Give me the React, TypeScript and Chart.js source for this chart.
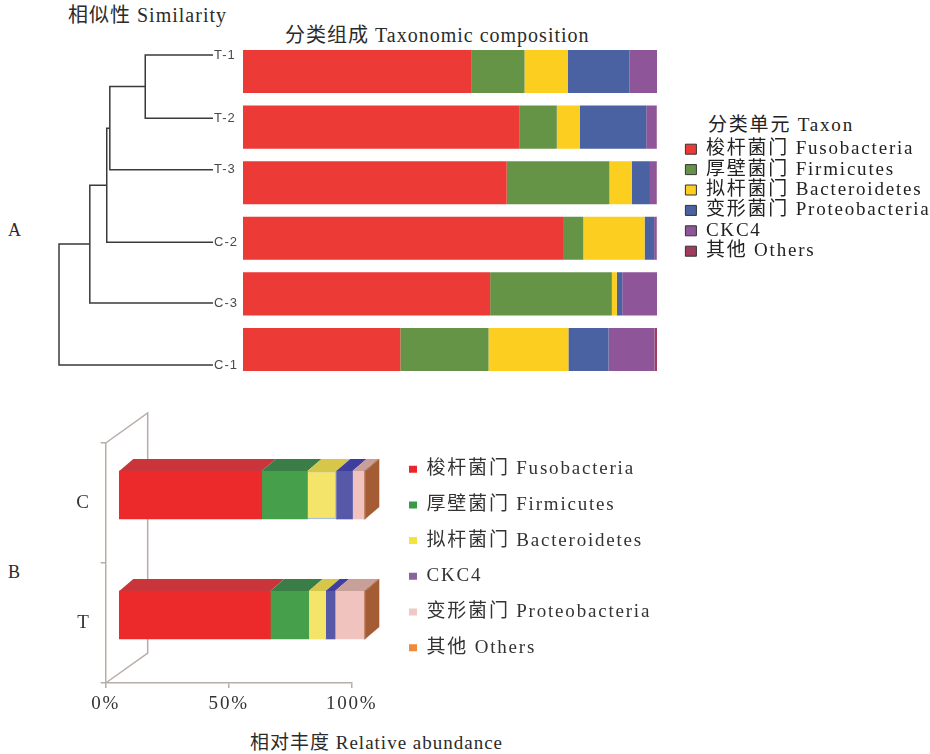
import React, { useEffect, useRef } from 'react';
import { Chart, registerables } from 'chart.js';
Chart.register(...registerables);

const SERIF = "'Liberation Serif', 'Noto Sans CJK SC', serif";
const SANS = "'Liberation Sans', Arial, sans-serif";

// ---------- Panel A data ----------
const samplesA = ['T-1', 'T-2', 'T-3', 'C-2', 'C-3', 'C-1'];
const taxaA = ['梭杆菌门 Fusobacteria', '厚壁菌门 Firmicutes', '拟杆菌门 Bacteroidetes', '变形菌门 Proteobacteria', 'CKC4', '其他 Others'];
const fusoA = [55.1, 66.7, 63.7, 77.3, 59.7, 38.0];
const firmA = [12.9, 9.1, 24.8, 4.9, 29.4, 21.3];
const bactA = [10.5, 5.6, 5.4, 14.8, 1.2, 19.3];
const proteoA = [14.8, 16.0, 4.4, 2.3, 1.3, 9.7];
const ckc4A = [6.7, 2.5, 1.6, 0.6, 8.4, 11.1];
const othersA = [0.0, 0.1, 0.1, 0.1, 0.0, 0.6];
const colorsA = ['#EC3A37', '#659447', '#FBCE20', '#4A61A2', '#8E5699', '#9E3D5D'];

// dendrogram (similarity)
const leafPos = [0, 1.02, 1.85, 3.02, 4.0, 5.0];
const mergeA = [0, 6, 7, 8, 9];
const mergeB = [1, 2, 3, 4, 5];
const mergeSim = [0.78, 0.665, 0.655, 0.6, 0.5];

// ---------- Panel B data ----------
const groupsB = ['C', 'T'];
const taxaB = ['梭杆菌门 Fusobacteria', '厚壁菌门 Firmicutes', '拟杆菌门 Bacteroidetes', 'CKC4', '变形菌门 Proteobacteria', '其他 Others'];
const fusoB = [57.9, 61.4];
const firmB = [18.6, 15.6];
const bactB = [11.7, 6.9];
const ckc4B = [6.6, 3.8];
const proteoB = [4.7, 11.8];
const othersB = [0.5, 0.5];
const tickValsB = [0, 50, 100];
const frontColorsB = ['#EC2A2C', '#46A04B', '#F5E46A', '#5858A8', '#F0C3BE', '#A45C35'];
const topColorsB = ['#C9353A', '#3A7D47', '#D6C64A', '#3D3E9D', '#C9A099', '#A45C35'];
const legendColorsB = ['#E8262B', '#3A9A48', '#F3E33A', '#8A62A0', '#F0C8C4', '#EE8B3C'];
const capColorB = '#A45C35';
const frameColor = '#B8ADA6';

const spacing = (px: string) => ({
  id: 'spacing',
  beforeUpdate(chart: any) { chart.ctx.letterSpacing = px; },
  beforeLayout(chart: any) { chart.ctx.letterSpacing = px; },
  beforeDraw(chart: any) { chart.ctx.letterSpacing = px; },
});

// keeps the legend box at a fixed width so the plot area keeps its place
const fixLegendWidth = (w: number) => ({
  id: 'fixLegendWidth',
  beforeLayout(chart: any) {
    const lg = chart.legend;
    if (lg && !lg.__fixed) {
      const orig = lg.fit.bind(lg);
      lg.fit = function () {
        orig();
        this.width = w;
      };
      lg.__fixed = true;
    }
  },
});

const DEPTH_DX = 14;
const DEPTH_DY = 12;
const WALL_DX = 42;
const WALL_DY = 30;

const depthPlugin = {
  id: 'depth3d',
  beforeDatasetsDraw(chart: any) {
    const { ctx } = chart;
    const x2 = chart.scales.x2;
    const y2 = chart.scales.y2;
    const x0 = x2.getPixelForValue(0);
    const top = y2.top;
    const bottom = y2.bottom;
    ctx.save();
    ctx.strokeStyle = frameColor;
    ctx.lineWidth = 1.5;
    ctx.beginPath();
    ctx.moveTo(x0, top);
    ctx.lineTo(x0 + WALL_DX, top - WALL_DY);
    ctx.lineTo(x0 + WALL_DX, bottom - WALL_DY);
    ctx.lineTo(x0, bottom);
    ctx.stroke();
    ctx.restore();
  },
  afterDatasetsDraw(chart: any) {
    const { ctx } = chart;
    const n = chart.data.datasets.length;
    ctx.save();
    for (let i = 0; i < n; i++) {
      const meta = chart.getDatasetMeta(i);
      meta.data.forEach((el: any) => {
        const { x, y, base, height } = el.getProps(['x', 'y', 'base', 'height'], true);
        const t = y - height / 2;
        const b = y + height / 2;
        ctx.fillStyle = topColorsB[i];
        ctx.beginPath();
        ctx.moveTo(base, t);
        ctx.lineTo(base + DEPTH_DX, t - DEPTH_DY);
        ctx.lineTo(x + DEPTH_DX, t - DEPTH_DY);
        ctx.lineTo(x, t);
        ctx.closePath();
        ctx.fill();
        if (i === n - 1) {
          ctx.fillStyle = capColorB;
          ctx.beginPath();
          ctx.moveTo(x, t);
          ctx.lineTo(x + DEPTH_DX, t - DEPTH_DY);
          ctx.lineTo(x + DEPTH_DX, b - DEPTH_DY);
          ctx.lineTo(x, b);
          ctx.closePath();
          ctx.fill();
        }
      });
    }
    ctx.restore();
  },
};

export default function App() {
  const dRef = useRef<HTMLCanvasElement>(null);
  const aRef = useRef<HTMLCanvasElement>(null);
  const bRef = useRef<HTMLCanvasElement>(null);

  useEffect(() => {
    // dendrogram
    const nodeX = leafPos.map(() => 1.0);
    const nodeY = [...leafPos];
    mergeSim.forEach((s, k) => {
      nodeX.push(s);
      nodeY.push((nodeY[mergeA[k]] + nodeY[mergeB[k]]) / 2);
    });
    const dendro = new Chart(dRef.current as HTMLCanvasElement, {
      type: 'scatter',
      data: {
        datasets: mergeSim.map((s, k) => {
          const a = mergeA[k];
          const b = mergeB[k];
          return {
            data: [
              { x: nodeX[a], y: nodeY[a] },
              { x: s, y: nodeY[a] },
              { x: s, y: nodeY[b] },
              { x: nodeX[b], y: nodeY[b] },
            ],
            showLine: true,
            borderColor: '#3a3a3a',
            borderWidth: 1.5,
            pointRadius: 0,
            tension: 0,
            clip: false,
          };
        }),
      },
      options: {
        animation: false,
        responsive: false,
        layout: { padding: { top: 10, bottom: 10, left: 0, right: 0 } },
        scales: {
          x: { type: 'linear', display: false, min: 0.3084, max: 1.0 },
          y: {
            type: 'linear',
            position: 'right',
            reverse: true,
            min: -0.0806,
            max: 5.0806,
            afterBuildTicks: (s: any) => { s.ticks = leafPos.map((v) => ({ value: v })); },
            ticks: {
              autoSkip: false,
              callback: (_v: any, i: number) => samplesA[i],
              font: { family: SANS, size: 13 },
              color: '#4a4a4a',
              padding: 1,
            },
            grid: { display: false, drawTicks: false },
            border: { display: false },
            afterFit: (s: any) => { s.width = 30; },
          },
        },
        plugins: { legend: { display: false }, tooltip: { enabled: false } },
      },
      plugins: [spacing('1px')],
    } as any);

    const seriesA = [fusoA, firmA, bactA, proteoA, ckc4A, othersA];
    const chartA = new Chart(aRef.current as HTMLCanvasElement, {
      type: 'bar',
      data: {
        labels: samplesA,
        datasets: seriesA.map((vals, i) => ({
          label: taxaA[i],
          data: vals,
          backgroundColor: colorsA[i],
          borderWidth: 0,
          barPercentage: 0.775,
          categoryPercentage: 1,
        })),
      },
      options: {
        indexAxis: 'y',
        animation: false,
        responsive: false,
        layout: { padding: { top: 13.7, bottom: 12.7, left: 0, right: 0 } },
        scales: {
          x: { stacked: true, min: 0, max: 100, display: false },
          y: {
            stacked: true,
            position: 'right',
            grid: { display: false, drawTicks: false },
            border: { display: false },
            ticks: { display: false },
            afterFit: (s: any) => { s.width = 27; },
          },
        },
        plugins: {
          tooltip: { enabled: false },
          legend: {
            position: 'right',
            align: 'start',
            title: {
              display: true,
              text: '',
              font: { family: SERIF, size: 19 },
              padding: { top: 71.8, bottom: 0 },
            },
            labels: {
              boxWidth: 11,
              boxHeight: 10,
              padding: 1.4,
              color: '#222',
              font: { family: SERIF, size: 19 },
              generateLabels: (chart: any) =>
                chart.data.datasets.map((ds: any, i: number) => ({
                  text: ds.label,
                  fillStyle: colorsA[i],
                  strokeStyle: '#333',
                  lineWidth: 1,
                  hidden: false,
                  datasetIndex: i,
                  fontColor: '#222',
                })),
            },
          },
        },
      },
      plugins: [fixLegendWidth(246), spacing('1.8px')],
    } as any);

    const seriesB = [fusoB, firmB, bactB, ckc4B, proteoB, othersB];
    const chartB = new Chart(bRef.current as HTMLCanvasElement, {
      type: 'bar',
      data: {
        labels: groupsB,
        datasets: seriesB.map((vals, i) => ({
          label: taxaB[i],
          data: vals.map((v, j) => ({ x: v, y: j })),
          backgroundColor: frontColorsB[i],
          borderColor: i === 2 ? ['#A9BFDC', 'rgba(0,0,0,0)'] : 'rgba(0,0,0,0)',
          borderWidth: i === 2 ? [1.5, 0] : 0,
          barThickness: 48,
          clip: false,
        })),
      },
      options: {
        indexAxis: 'y',
        animation: false,
        responsive: false,
        layout: { padding: { top: 43, left: 0, right: 0, bottom: 7 } },
        scales: {
          x: { type: 'linear', display: false, stacked: true, min: -5.53, max: 94.47 },
          y: {
            type: 'linear',
            position: 'right',
            stacked: true,
            reverse: true,
            offset: false,
            min: -0.4333,
            max: 1.5667,
            grid: { display: false, drawTicks: false, offset: false },
            border: { display: false },
            ticks: { display: false },
            afterFit: (s: any) => { s.width = 40.6; },
          },
          x2: {
            type: 'linear',
            axis: 'x',
            position: 'bottom',
            min: 0,
            max: 100,
            afterBuildTicks: (s: any) => { s.ticks = tickValsB.map((v) => ({ value: v })); },
            ticks: {
              callback: (v: any) => v + '%',
              font: { family: SERIF, size: 19 },
              color: '#333',
              padding: 5,
            },
            grid: { drawOnChartArea: false, tickLength: 5, color: frameColor, lineWidth: 1.5 },
            border: { color: frameColor, width: 1.5 },
            afterFit: (s: any) => { s.height = 40; },
          },
          y2: {
            type: 'category',
            axis: 'y',
            position: 'left',
            offset: true,
            ticks: { font: { family: SERIF, size: 19 }, color: '#333', padding: 10 },
            grid: { offset: true, drawOnChartArea: false, tickLength: 5, color: frameColor, lineWidth: 1.5 },
            border: { color: frameColor, width: 1.5 },
            afterFit: (s: any) => { s.width = 105.7; },
          },
        },
        plugins: {
          tooltip: { enabled: false },
          legend: {
            position: 'right',
            align: 'start',
            labels: {
              boxWidth: 8,
              boxHeight: 7,
              padding: 16.7,
              color: '#333',
              font: { family: SERIF, size: 19 },
              generateLabels: (chart: any) =>
                chart.data.datasets.map((ds: any, i: number) => ({
                  text: ds.label,
                  fillStyle: legendColorsB[i],
                  strokeStyle: legendColorsB[i],
                  lineWidth: 0,
                  hidden: false,
                  datasetIndex: i,
                  fontColor: '#333',
                })),
            },
          },
        },
      },
      plugins: [depthPlugin, fixLegendWidth(537.7), spacing('1.8px')],
    } as any);

    return () => {
      dendro.destroy();
      chartA.destroy();
      chartB.destroy();
    };
  }, []);

  const text = (extra: any) => ({
    position: 'absolute' as const,
    whiteSpace: 'nowrap' as const,
    fontFamily: SERIF,
    color: '#2b2b2b',
    ...extra,
  });

  return (
    <div style={{ position: 'absolute', left: 0, top: 0, width: 930, height: 754, background: '#fff', overflow: 'hidden' }}>
      <div style={text({ left: 68, top: 3, fontSize: 20, lineHeight: '24px', letterSpacing: '1px' })}>相似性 Similarity</div>
      <div style={text({ left: 285, top: 23, fontSize: 20, lineHeight: '24px', letterSpacing: '1px' })}>分类组成 Taxonomic composition</div>
      <div style={text({ left: 708, top: 113, fontSize: 19, lineHeight: '24px', letterSpacing: '1.8px', color: '#222' })}>分类单元 Taxon</div>
      <div style={text({ left: 8, top: 219, fontSize: 18, lineHeight: '22px' })}>A</div>
      <div style={text({ left: 8, top: 561, fontSize: 18, lineHeight: '22px' })}>B</div>
      <canvas ref={dRef} width={243} height={340} style={{ position: 'absolute', left: 0, top: 40, width: 243, height: 340 }} />
      <canvas ref={aRef} width={687} height={360} style={{ position: 'absolute', left: 243, top: 30, width: 687, height: 360 }} />
      <canvas ref={bRef} width={930} height={330} style={{ position: 'absolute', left: 0, top: 400, width: 930, height: 330 }} />
      <div style={text({ left: 250, top: 731, fontSize: 19, lineHeight: '24px', letterSpacing: '1px' })}>相对丰度 Relative abundance</div>
    </div>
  );
}
